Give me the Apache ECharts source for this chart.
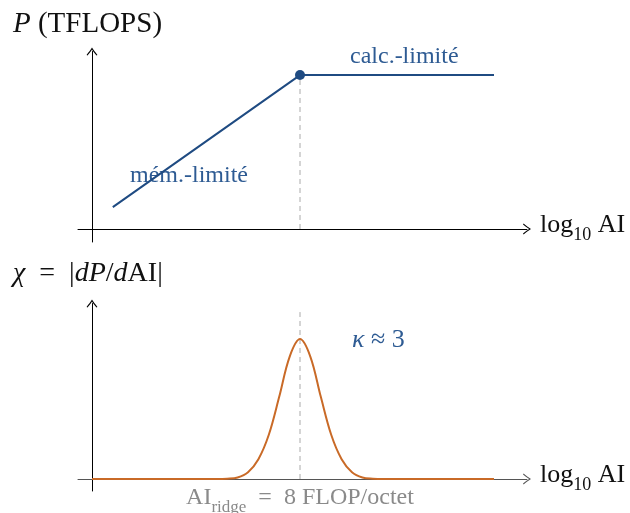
<!DOCTYPE html>
<html><head><meta charset="utf-8">
<script src="https://cdn.jsdelivr.net/npm/echarts@6/dist/echarts.min.js"></script>
<style>html,body{margin:0;padding:0;background:#fff}#c{width:630px;height:513px}</style>
</head><body><div id="c"></div>
<script>
// Roofline (top panel): log10 AI vs P
const rooflineX = [0.4, 4.0, 7.73];
const rooflineY = [0.42, 2.96, 2.96];
const ridgeX = 4.0;
const ridgeY = 2.96;
// chi = |dP/dAI| (bottom panel)
const chiX = [0, 2.0, 2.4, 2.6, 2.8, 3.0, 3.2, 3.4, 3.6, 3.8, 4.0, 4.2, 4.4, 4.6, 4.8, 5.0, 5.2, 5.4, 5.6, 6.0, 7.73];
const chiY = [0, 0, 0, 0.006, 0.03, 0.13, 0.38, 0.85, 1.58, 2.35, 2.69, 2.35, 1.58, 0.85, 0.38, 0.13, 0.03, 0.006, 0, 0, 0];
const guideTopY = [0, 2.96];
const guideBottomY = [0, 3.21];

const BLUE = '#1f4b82', BLUE_T = '#2e5b93', ORANGE = '#c96a27';
const SERIF = '"Liberation Serif", "DejaVu Serif", serif';
const arrow = 'path://M0,7.5 C1.8,5.2 4.2,2.4 5.5,0 C6.8,2.4 9.2,5.2 11,7.5 L10.0,8.1 C8.5,6 6.5,3.7 5.5,1.9 C4.5,3.7 2.5,6 1.0,8.1 Z';

const chart = echarts.init(document.getElementById('c'), null, {renderer: 'canvas'});

function xAx(gi, color) {
  return {gridIndex: gi, type: 'value', min: -0.2692, max: 8.365,
    axisLine: {show: true, onZero: true, symbol: ['none', arrow], symbolSize: [12, 8], lineStyle: {color: color, width: 1}},
    axisTick: {show: false}, axisLabel: {show: false}, splitLine: {show: false}};
}
function yAx(gi, min, max) {
  return {gridIndex: gi, type: 'value', min: min, max: max,
    axisLine: {show: true, onZero: true, symbol: ['none', arrow], symbolSize: [12, 8], lineStyle: {color: '#000', width: 1}},
    axisTick: {show: false}, axisLabel: {show: false}, splitLine: {show: false}};
}
function sub(x, y, main, subs, rest, size, ssize, color, align) {
  return {type: 'text', x: x, y: y, style: {text: '{m|' + main + '}{s|' + subs + '}{m|' + rest + '}', fill: color,
    align: align || 'left', verticalAlign: 'top',
    rich: {m: {fontSize: size, fontFamily: SERIF, lineHeight: size + 6, verticalAlign: 'top', fill: color},
           s: {fontSize: ssize, fontFamily: SERIF, lineHeight: ssize, verticalAlign: 'bottom', fill: color}}}};
}

chart.setOption({
  animation: false,
  grid: [
    {left: 78, width: 449, top: 51.5, height: 190.5},
    {left: 78, width: 449, top: 303.5, height: 187.5}
  ],
  xAxis: [xAx(0, '#000'), xAx(1, '#555')],
  yAxis: [yAx(0, -0.25, 3.413), yAx(1, -0.2308, 3.375)],
  series: [
    {type: 'line', xAxisIndex: 0, yAxisIndex: 0, symbol: 'none', z: 1,
      data: guideTopY.map(v => [ridgeX, v]), lineStyle: {color: '#aaa', width: 1, type: [5, 4]}},
    {type: 'line', xAxisIndex: 0, yAxisIndex: 0, symbol: 'none', z: 3,
      data: rooflineX.map((x, i) => [x, rooflineY[i]]), lineStyle: {color: BLUE, width: 2}},
    {type: 'scatter', xAxisIndex: 0, yAxisIndex: 0, symbol: 'circle', symbolSize: 10, z: 4,
      data: [[ridgeX, ridgeY]], itemStyle: {color: BLUE, opacity: 1}},
    {type: 'line', xAxisIndex: 1, yAxisIndex: 1, symbol: 'none', z: 1,
      data: guideBottomY.map(v => [ridgeX, v]), lineStyle: {color: '#aaa', width: 1, type: [5, 4]}},
    {type: 'line', xAxisIndex: 1, yAxisIndex: 1, symbol: 'none', z: 3, smooth: 0.35,
      data: chiX.map((x, i) => [x, chiY[i]]), lineStyle: {color: ORANGE, width: 2}}
  ],
  graphic: [
    {type: 'text', x: 13, y: 24, style: {text: '{i|P} (TFLOPS)', fill: '#111', font: '29px ' + SERIF, verticalAlign: 'middle',
      rich: {i: {fontStyle: 'italic', fontSize: 29, fontFamily: SERIF, fill: '#111'}}}},
    sub(540, 212, 'log', '10', ' AI', 26, 18, '#111'),
    sub(540, 462, 'log', '10', ' AI', 26, 18, '#111'),
    {type: 'text', x: 13, y: 274, style: {text: '{i|χ}  =  |{i|dP}/{i|d}AI|', fill: '#111', font: '28px ' + SERIF, verticalAlign: 'middle',
      rich: {i: {fontStyle: 'italic', fontSize: 28, fontFamily: SERIF, fill: '#111'}}}},
    {type: 'text', x: 350, y: 57, style: {text: 'calc.-limité', fill: BLUE_T, font: '24px ' + SERIF, verticalAlign: 'middle'}},
    {type: 'text', x: 130, y: 176, style: {text: 'mém.-limité', fill: BLUE_T, font: '24px ' + SERIF, verticalAlign: 'middle'}},
    {type: 'text', x: 352, y: 340, style: {text: '{i|κ} ≈ 3', fill: BLUE_T, font: '26px ' + SERIF, verticalAlign: 'middle',
      rich: {i: {fontStyle: 'italic', fontSize: 26, fontFamily: SERIF, fill: BLUE_T}}}},
    sub(300, 486, 'AI', 'ridge', '  =  8 FLOP/octet', 24, 17, '#8a8a8a', 'center')
  ]
});
</script></body></html>
